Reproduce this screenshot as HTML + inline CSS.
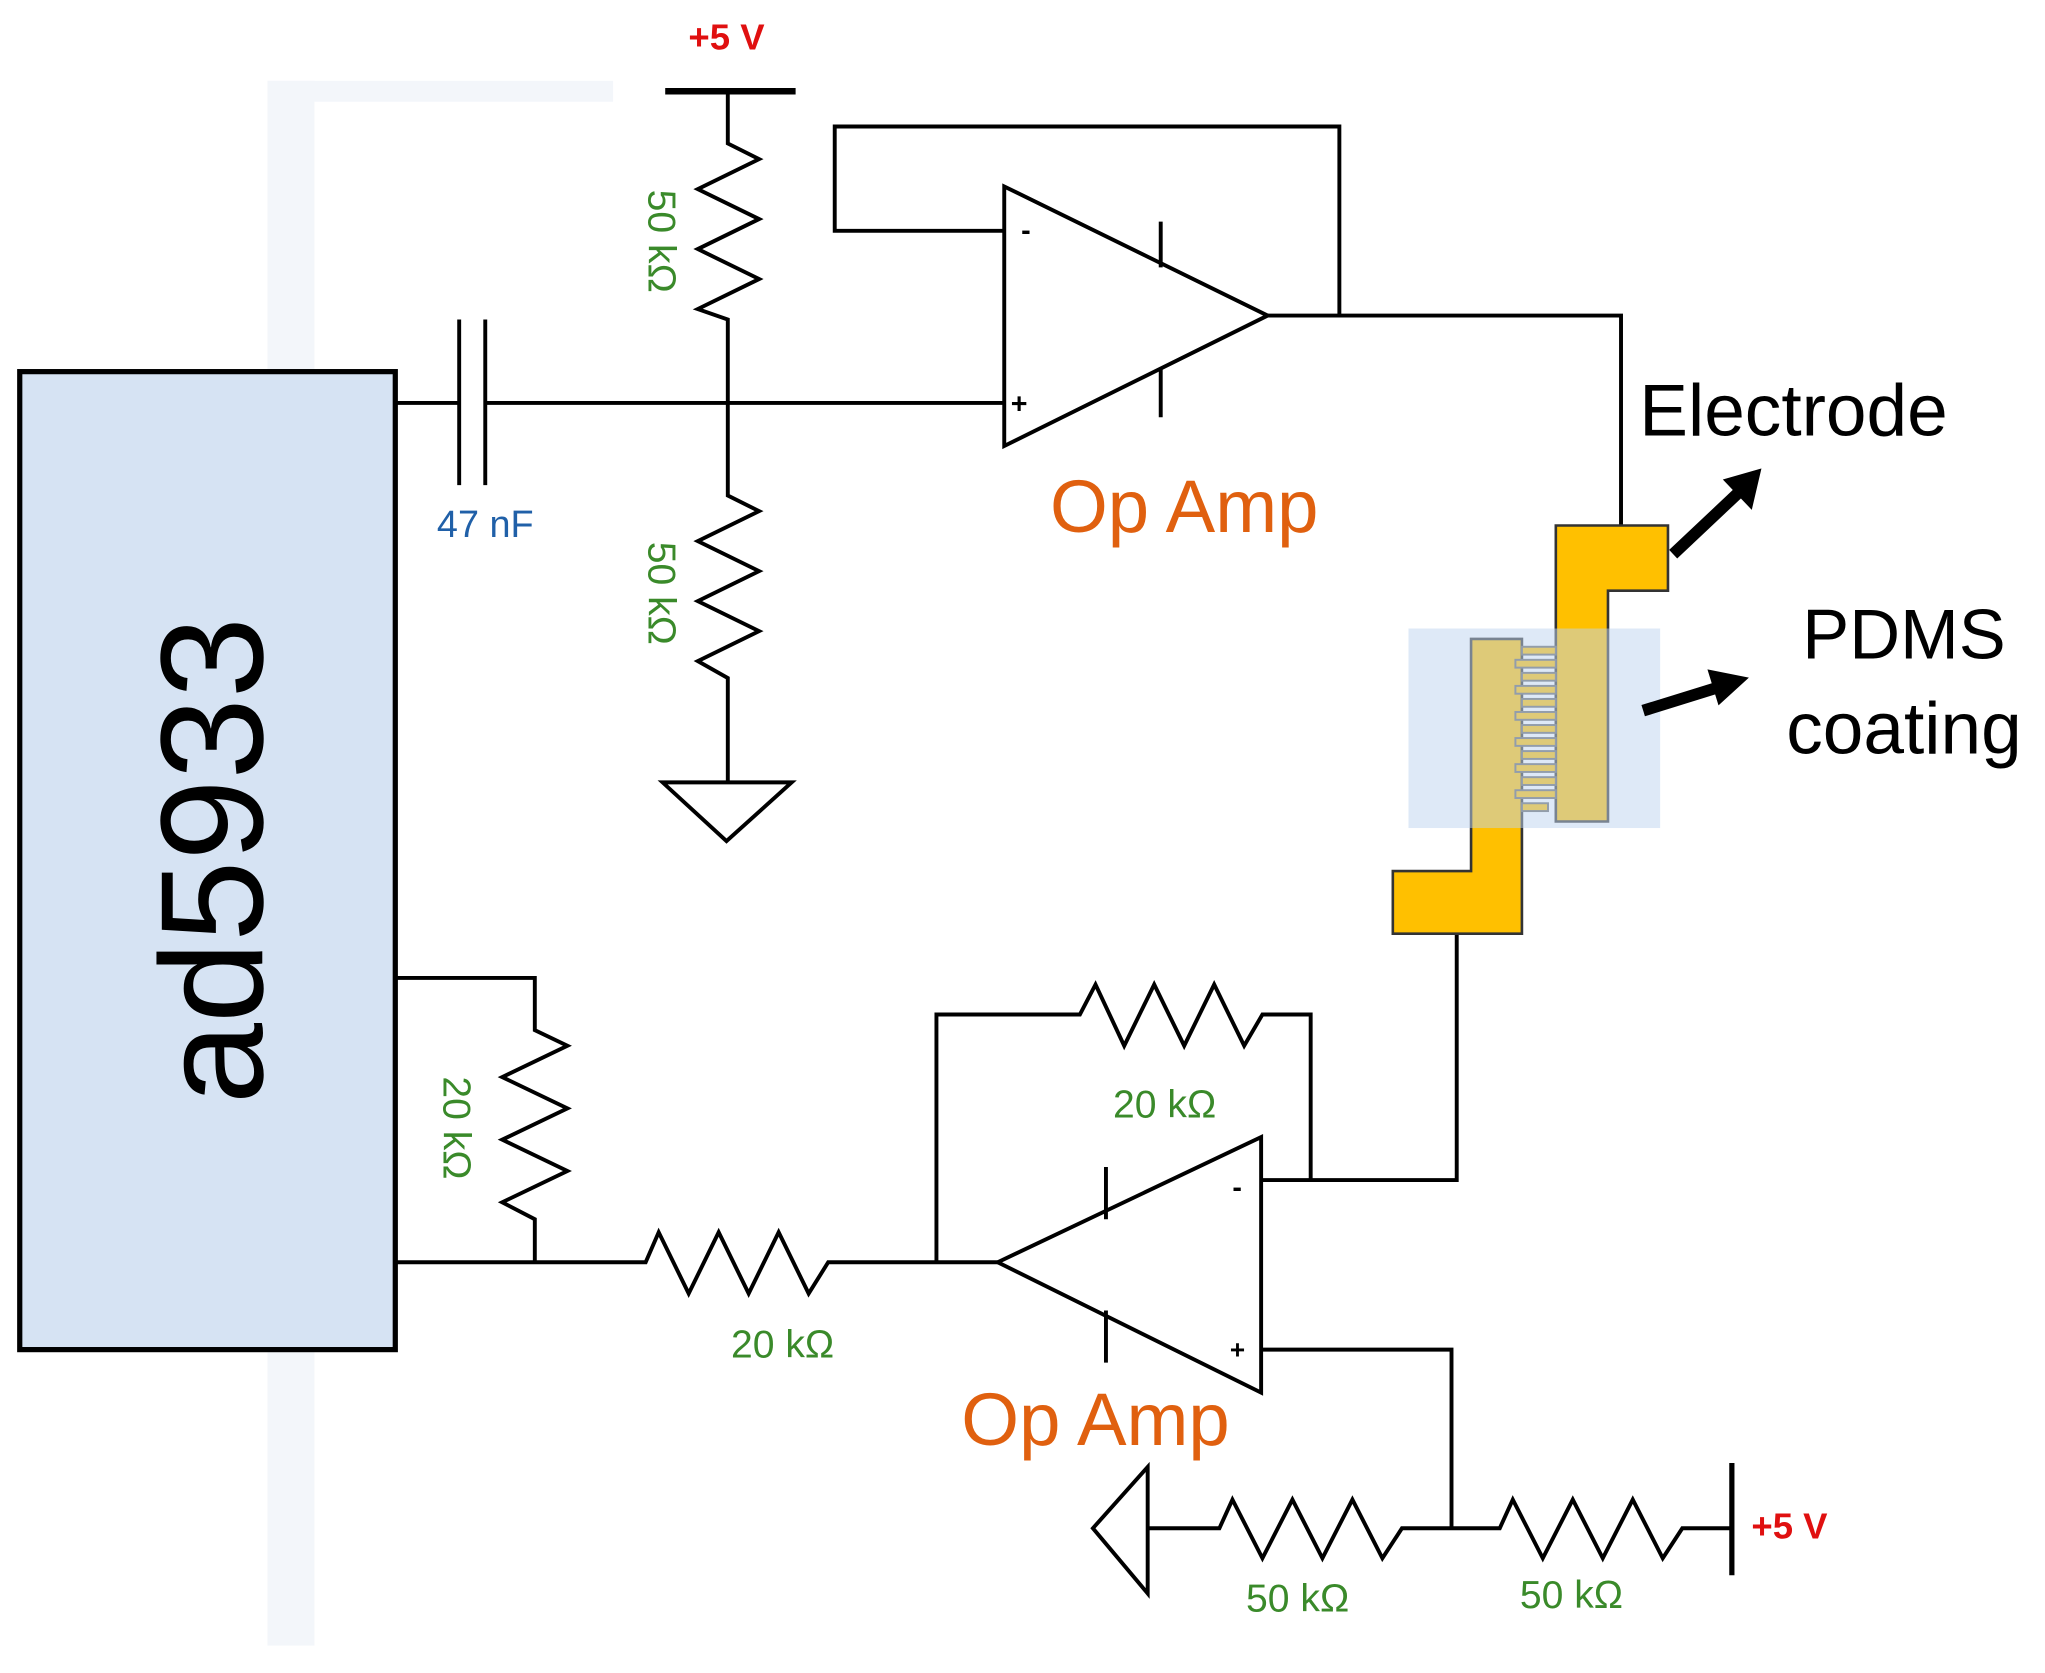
<!DOCTYPE html>
<html><head><meta charset="utf-8"><style>
html,body{margin:0;padding:0;background:#fff;}
svg{display:block;}
text{font-family:"Liberation Sans","DejaVu Sans",sans-serif;}
</style></head><body>
<svg width="2045" height="1673" viewBox="0 0 1568 1283" xmlns="http://www.w3.org/2000/svg">
<rect x="0" y="0" width="1568" height="1283" fill="#fff"/>
<rect x="205" y="62" width="265" height="16" fill="#f3f6fa"/>
<rect x="205" y="62" width="36" height="1200" fill="#f3f6fa"/>
<rect x="15" y="285" width="288" height="750" fill="#d6e3f3" stroke="#000" stroke-width="4"/>
<text x="0" y="0" transform="translate(201,660) rotate(-90)" font-size="112" text-anchor="middle" fill="#000">ad5933</text>

<g fill="none" stroke="#000" stroke-width="3" stroke-linejoin="miter">
<path d="M303 309 H352 M372 309 H770"/>
<path d="M352 245 V372 M372 245 V372"/>
<path d="M510 70 H610" stroke-width="5"/>
<path d="M558 70 V110 L582 122 L535 145 L582 168 L535 191 L582 214 L535 237 L558 245 V380 L582 392 L535 415 L582 438 L535 461 L582 484 L535 507 L558 520 V600"/>
<path d="M508 600 H607 L557 645 Z"/>
<path d="M770 143 V342 L972 242 Z"/>
<path d="M890 170 V205 M890 282 V320"/>
<path d="M770 177 H640 V97 H1027 V242"/>
<path d="M972 242 H1243 V403"/>
<path d="M303 750 H410 V790 L435 802 L385 826 L435 850 L385 874 L435 898 L385 922 L410 935 V968"/>
<path d="M303 968 H495 L505 945 L528 992 L551 945 L574 992 L597 945 L620 992 L635 968 H765"/>
<path d="M765 968 L967 872 V1068 Z"/>
<path d="M848 895 V935 M848 1005 V1045"/>
<path d="M718 968 V778 H828 L840 755 L862 802 L885 755 L908 802 L931 755 L954 802 L968 778 H1005 V905"/>
<path d="M967 905 H1117 V716"/>
<path d="M967 1035 H1113 V1172"/>
<path d="M880 1172 H935 L945 1150 L968 1195 L991 1150 L1014 1195 L1037 1150 L1060 1195 L1075 1172 H1150 L1160 1150 L1183 1195 L1206 1150 L1229 1195 L1252 1150 L1275 1195 L1290 1172 H1328"/>
<path d="M880 1125 V1222 L838 1172 Z"/>
<path d="M1328 1122 V1208" stroke-width="4"/>
</g>
<text x="783" y="184" font-size="22" font-weight="bold">-</text>
<text x="775" y="317" font-size="22" font-weight="bold">+</text>
<text x="945" y="918" font-size="22" font-weight="bold">-</text>
<text x="943" y="1042" font-size="20" font-weight="bold">+</text>

<g stroke="#333" stroke-width="2" fill="#ffc000">
<path d="M1193 403 H1279 V453 H1233 V630 H1193 Z"/>
<path d="M1128 490 H1167 V716 H1068 V668 H1128 Z"/>
</g>
<g fill="#ffc000" stroke="#666" stroke-width="1.5">
<rect x="1167" y="496" width="26" height="6"/><rect x="1167" y="516" width="26" height="6"/><rect x="1167" y="536" width="26" height="6"/><rect x="1167" y="556" width="26" height="6"/><rect x="1167" y="576" width="26" height="6"/><rect x="1167" y="596" width="26" height="6"/><rect x="1167" y="616" width="20" height="6"/>
<rect x="1162" y="506" width="31" height="6"/><rect x="1162" y="526" width="31" height="6"/><rect x="1162" y="546" width="31" height="6"/><rect x="1162" y="566" width="31" height="6"/><rect x="1162" y="586" width="31" height="6"/><rect x="1162" y="606" width="31" height="6"/>
</g>
<rect x="1080" y="482" width="193" height="153" fill="rgba(190,212,240,0.5)"/>
<g fill="#000" stroke="#000">
<path d="M1283 425 L1335 376" stroke-width="9"/>
<path d="M1350 360 L1322 368 L1343 390 Z"/>
<path d="M1260 545 L1318 527" stroke-width="9"/>
<path d="M1340 520 L1310 514 L1318 540 Z"/>
</g>

<text x="557" y="38" font-size="28" font-weight="bold" fill="#e01010" text-anchor="middle">+5 V</text>
<text x="1343" y="1180" font-size="28" font-weight="bold" fill="#e01010">+5 V</text>
<text x="372" y="412" font-size="29" fill="#2060a8" text-anchor="middle">47 nF</text>
<g font-size="30" fill="#3a8a2a">
<text x="0" y="0" transform="translate(497,185) rotate(90)" text-anchor="middle">50 kΩ</text>
<text x="0" y="0" transform="translate(497,455) rotate(90)" text-anchor="middle">50 kΩ</text>
<text x="0" y="0" transform="translate(340,865) rotate(90)" text-anchor="middle">20 kΩ</text>
<text x="893" y="857" text-anchor="middle">20 kΩ</text>
<text x="600" y="1041" text-anchor="middle">20 kΩ</text>
<text x="995" y="1236" text-anchor="middle">50 kΩ</text>
<text x="1205" y="1233" text-anchor="middle">50 kΩ</text>
</g>
<text x="908" y="408" font-size="57" fill="#e0600f" text-anchor="middle">Op Amp</text>
<text x="840" y="1108" font-size="57" fill="#e0600f" text-anchor="middle">Op Amp</text>
<text x="1257" y="334" font-size="56" fill="#000">Electrode</text>
<text x="1460" y="505" font-size="54" fill="#000" text-anchor="middle">PDMS</text>
<text x="1460" y="578" font-size="56" fill="#000" text-anchor="middle">coating</text>
</svg>
</body></html>
